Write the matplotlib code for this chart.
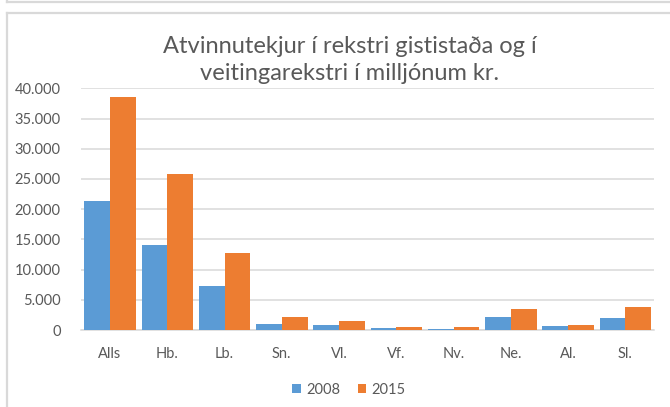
import matplotlib
matplotlib.use("Agg")
import matplotlib.pyplot as plt
from matplotlib.lines import Line2D
import numpy as np

categories = ["Alls", "Hb.", "Lb.", "Sn.", "Vl.", "Vf.", "Nv.", "Ne.", "Al.", "Sl."]
series_names = ["2008", "2015"]
values_2008 = [21400, 14100, 7250, 1000, 830, 330, 220, 2160, 660, 2000]
values_2015 = [38500, 25750, 12740, 2160, 1440, 500, 500, 3490, 780, 3820]
yticks = [0, 5000, 10000, 15000, 20000, 25000, 30000, 35000, 40000]
ytick_labels = ["0", "5.000", "10.000", "15.000", "20.000", "25.000", "30.000", "35.000", "40.000"]
title = "Atvinnutekjur í rekstri gististaða og í\nveitingarekstri í milljónum kr."

FONT = "Lato"
TXT = "#595959"
GRID = "#d9d9d9"
BLUE = "#5b9bd5"
ORANGE = "#ed7d31"

W, H = 670, 407
fig = plt.figure(figsize=(W / 100, H / 100), dpi=100)

# figure borders (chart frame)
fig.add_artist(Line2D([7 / W, 1], [1 - 1.5 / H, 1 - 1.5 / H], color=GRID, lw=1.6, transform=fig.transFigure))
fig.add_artist(Line2D([7 / W, 7 / W], [1, 1 - 1.5 / H], color=GRID, lw=1.6, transform=fig.transFigure))
fig.add_artist(Line2D([7 / W, 1], [1 - 13 / H, 1 - 13 / H], color=GRID, lw=1.6, transform=fig.transFigure))
fig.add_artist(Line2D([7 / W, 7 / W], [0, 1 - 13 / H], color=GRID, lw=1.6, transform=fig.transFigure))

left, right = 81.4 / W, 654 / W
bottom, top = (H - 330) / H, (H - 88.3) / H
ax = fig.add_axes([left, bottom, right - left, top - bottom])

x = np.arange(len(categories))
bw = 0.45
ax.bar(x - bw / 2, values_2008, width=bw, color=BLUE, label=series_names[0], zorder=3)
ax.bar(x + bw / 2, values_2015, width=bw, color=ORANGE, label=series_names[1], zorder=3)

ax.set_xlim(-0.5, len(categories) - 0.5)
ax.set_ylim(0, 40000)
ax.set_yticks(yticks)
ax.set_yticklabels(ytick_labels, fontfamily=FONT, fontsize=10.5, color=TXT)
ax.set_xticks(x)
ax.set_xticklabels(categories, fontfamily=FONT, fontsize=10.5, color=TXT)
ax.tick_params(axis="both", length=0)
ax.tick_params(axis="y", pad=15)
ax.tick_params(axis="x", pad=12)
ax.grid(axis="y", color=GRID, lw=1.1, zorder=0)
for s in ["top", "right", "left"]:
    ax.spines[s].set_visible(False)
ax.spines["bottom"].set_color(GRID)
ax.spines["bottom"].set_linewidth(1.1)

fig.text(350 / W, 1 - 60 / H, title, ha="center", va="center", fontfamily=FONT,
         fontsize=17, color=TXT, linespacing=1.3)

leg = fig.legend(loc="center", bbox_to_anchor=(349 / W, 1 - 390 / H), ncol=2, frameon=False,
                 prop={"family": FONT, "size": 10.5}, handlelength=0.6, handleheight=0.6,
                 handletextpad=0.35, columnspacing=1.2, labelcolor=TXT)

fig.savefig("out.png", dpi=100)
